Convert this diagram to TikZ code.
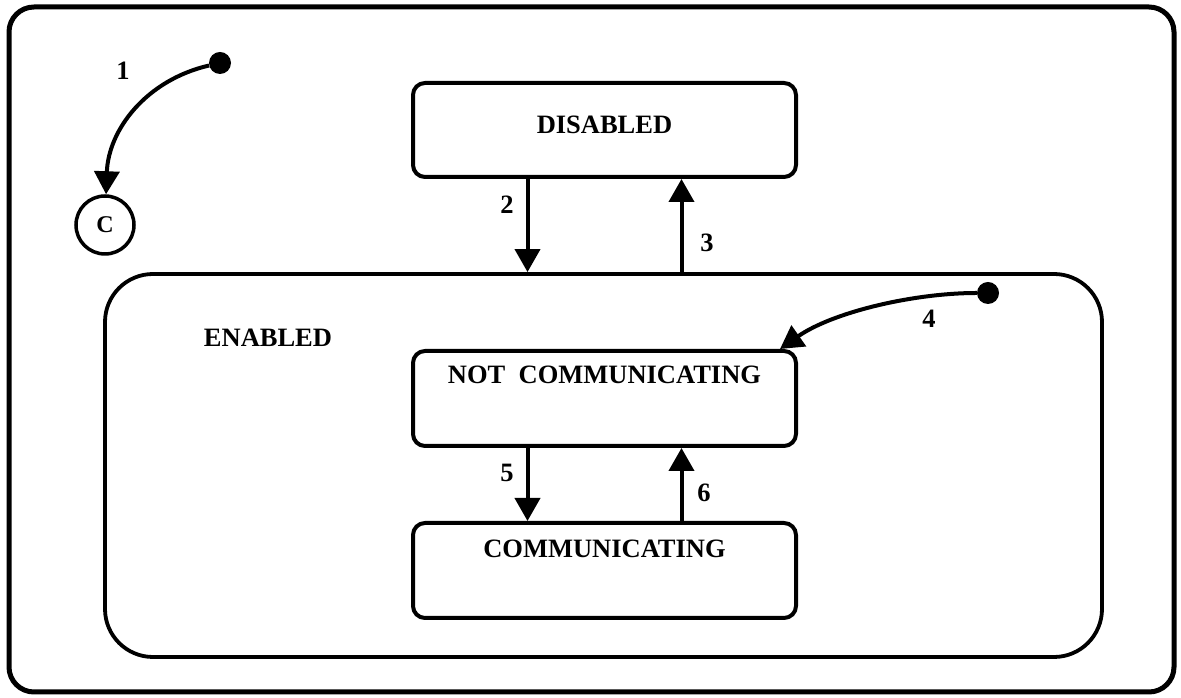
\documentclass[tikz,border=0pt]{standalone}
\usepackage{fontspec}
\setmainfont{Liberation Serif}
\usetikzlibrary{arrows.meta}
\tikzset{
  x=1pt, y=1pt,
  txt/.style={font=\fontsize{26.5}{31}\selectfont\bfseries, inner sep=0pt},
  statebox/.style={draw, line width=4pt, rounded corners=12pt,
    minimum width=383pt, minimum height=95pt, inner sep=0pt},
  boxtitle/.style={anchor=north, yshift=-18pt, inner sep=0pt,
    font=\fontsize{26.5}{31}\selectfont\bfseries},
  trans/.style={line width=4pt, -{Triangle[length=23pt,width=25pt]}},
  initdot/.style={circle, fill, minimum size=22pt, inner sep=0pt},
}
\begin{document}
\begin{tikzpicture}
\useasboundingbox (0,0) rectangle (1181,698);

% outer frame
\node[draw, line width=5pt, rounded corners=25pt, minimum width=1165pt,
  minimum height=685pt, inner sep=0pt] (frame) at (591.5,348.5) {};

% enabled super-state
\node[draw, line width=3.8pt, rounded corners=48pt, minimum width=997pt,
  minimum height=383pt, inner sep=0pt] (en) at (603.5,232.5) {};
\node[txt] (enlabel) at (268,360) {ENABLED};

% states
\node[statebox, minimum height=94pt,
  label={[boxtitle, yshift=-17pt]north:DISABLED}] (dis) at (604.5,568) {};
\node[statebox,
  label={[boxtitle, yshift=1pt]north:NOT\ \ COMMUNICATING}] (nc) at (604.5,299.5) {};
\node[statebox,
  label={[boxtitle, yshift=-1pt]north:COMMUNICATING}] (com) at (604.5,127.5) {};

% history connector and initial pseudo-states
\node[draw, circle, line width=3.5pt, minimum size=58pt, inner sep=0pt,
  font=\fontsize{24}{28}\selectfont\bfseries] (c) at (105,473) {C};
\node[initdot] (d1) at (220,635) {};
\node[initdot] (d4) at (988,405) {};

% transitions
\draw[trans] (d1) to[out=193, in=88, looseness=1.0] (c);
\draw[trans] ([xshift=-77pt]dis.south) -- ([xshift=-76pt]en.north);
\draw[trans] ([xshift=78pt]en.north) -- ([xshift=77pt]dis.south);
\draw[trans] (d4) to[out=180, in=35, looseness=0.8] ([xshift=-18pt]nc.north east);
\draw[trans] ([xshift=-77pt]nc.south) -- ([xshift=-77pt]com.north);
\draw[trans] ([xshift=77pt]com.north) -- ([xshift=77pt]nc.south);

% transition numbers
\node[txt] (t1) at (123,627) {1};
\node[txt] (t2) at (507,493) {2};
\node[txt] (t3) at (707,455) {3};
\node[txt] (t4) at (929,379) {4};
\node[txt] (t5) at (507,225) {5};
\node[txt] (t6) at (704,205) {6};
\end{tikzpicture}
\end{document}
